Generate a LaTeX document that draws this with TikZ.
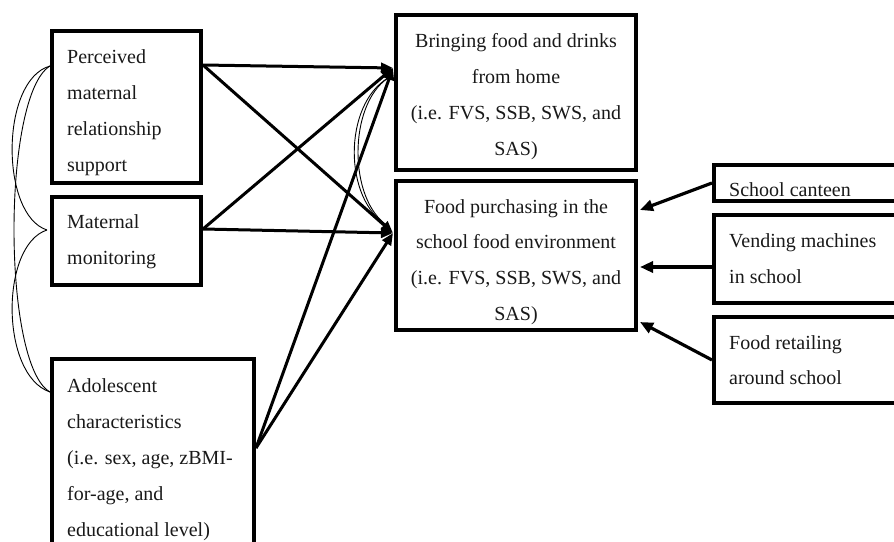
\documentclass[tikz,border=0pt]{standalone}
\usepackage{fontspec}
\setmainfont{Liberation Serif}
\usetikzlibrary{arrows.meta}
\begin{document}
\begin{tikzpicture}[x=1pt,y=-1pt,
  box/.style={draw,line width=3.8pt,inner sep=0pt,outer sep=0pt,anchor=north west},
  txt/.style={font=\fontsize{20}{36}\selectfont,inner sep=0pt,anchor=base west,text=black!90},
  ctxt/.style={txt,anchor=base},
  arr/.style={line width=3pt,-{Triangle[length=12pt,width=10pt]}},
  rarr/.style={line width=3.2pt,-{Triangle[length=13pt,width=11pt]}},
  cov/.style={line width=0.9pt}]
\useasboundingbox (0,0) rectangle (894,541);
\clip (0,0) rectangle (894,541);
% boxes
\node[box,minimum width=149,minimum height=152] (pms) at (52,31) {};
\node[box,minimum width=149,minimum height=88] (mm) at (52,197) {};
\node[box,minimum width=202,minimum height=300] (adol) at (52,359) {};
\node[box,minimum width=240,minimum height=155] (bring) at (396,15) {};
\node[box,minimum width=240,minimum height=149] (purch) at (396,181) {};
\node[box,minimum width=250,minimum height=36] (cant) at (714,165) {};
\node[box,minimum width=250,minimum height=88] (vend) at (714,215) {};
\node[box,minimum width=250,minimum height=86] (ret) at (714,317) {};
% texts
\foreach \t [count=\i] in {Perceived,maternal,relationship,support}
  \node[txt] (pt\i) at (67,{63+36*(\i-1)}) {\t};
\foreach \t [count=\i] in {Maternal,monitoring}
  \node[txt] (mt\i) at (67,{228+36*(\i-1)}) {\t};
\foreach \t [count=\i] in {Adolescent,characteristics,{(i.e. sex, age, zBMI-},{for-age, and},{educational level)}}
  \node[txt] (at\i) at (67,{392+36*(\i-1)}) {\t};
\foreach \t [count=\i] in {Bringing food and drinks,from home,{(i.e. FVS, SSB, SWS, and},SAS)}
  \node[ctxt] (bt\i) at (516,{47+36*(\i-1)}) {\t};
\foreach \t [count=\i] in {Food purchasing in the,school food environment,{(i.e. FVS, SSB, SWS, and},SAS)}
  \node[ctxt] (ft\i) at (516,{213+35.7*(\i-1)}) {\t};
\node[txt] (ct1) at (729,196) {School canteen};
\node[txt] (vt1) at (729,247) {Vending machines};
\node[txt] (vt2) at (729,283) {in school};
\node[txt] (rt1) at (729,349) {Food retailing};
\node[txt] (rt2) at (729,384) {around school};
% connector end points on the boxes
\coordinate (pOut) at (203,65);
\coordinate (mOut) at (203,229);
\coordinate (aOut) at (256,448);
\coordinate (bIn) at (393,68);
\coordinate (fIn) at (393,233);
\coordinate (cOut) at (712,183);
\coordinate (cIn) at (640,210);
\coordinate (vOut) at (712,267);
\coordinate (vIn) at (640,267);
\coordinate (rOut) at (712,360);
\coordinate (rIn) at (640,322);
\coordinate (pL) at (50,66);
\coordinate (mL) at (47,230);
\coordinate (aL) at (50,392);
\coordinate (bA) at (388,78);
\coordinate (fA) at (388,226);
% arrows
\draw[arr] (pOut) -- (bIn);
\draw[arr] (pOut) -- (fIn);
\draw[arr] (mOut) -- (bIn);
\draw[arr] (mOut) -- (fIn);
\draw[arr] (aOut) -- (bIn);
\draw[arr] (aOut) -- (fIn);
\draw[rarr] (cOut) -- (cIn);
\draw[rarr] (vOut) -- (vIn);
\draw[rarr] (rOut) -- (rIn);
% correlations
\draw[cov] (pL) .. controls (0,80) and (0,215) .. (mL);
\draw[cov] (pL) .. controls (2,95) and (2,365) .. (aL);
\draw[cov] (mL) .. controls (0,245) and (0,375) .. (aL);
\draw[cov] (bA) .. controls (343,105) and (343,200) .. (fA);
\draw[cov] (bA) .. controls (348,105) and (348,200) .. (fA);
\end{tikzpicture}
\end{document}
